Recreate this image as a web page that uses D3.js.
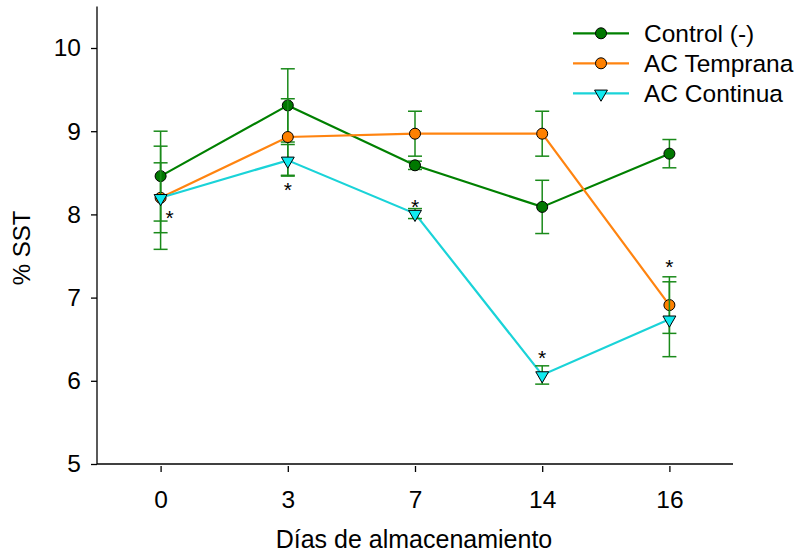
<!DOCTYPE html>
<html>
<head>
<meta charset="utf-8">
<script src="https://cdn.jsdelivr.net/npm/d3@7"></script>
<style>
  html, body { margin: 0; padding: 0; background: #fff; }
  svg text { font-family: "Liberation Sans", Arial, sans-serif; fill: #000; }
</style>
</head>
<body>
<svg id="chart" width="802" height="554"></svg>
<script>
// Storage days (categorical)
const days = ["0", "3", "7", "14", "16"];
const yTicks = [5, 6, 7, 8, 9, 10];

// Series means (% SST)
const controlValues  = [8.46, 9.31, 8.59, 8.09, 8.73];
const tempranaValues = [8.20, 8.93, 8.97, 8.97, 6.91];
const continuaValues = [8.20, 8.65, 8.01, 6.07, 6.74];

// Standard errors
const controlErr  = [0.54, 0.44, 0.05, 0.32, 0.17];
const tempranaErr = [0.42, 0.46, 0.27, 0.27, 0.34];
const continuaErr = [0.62, 0.19, 0.06, 0.11, 0.45];

// Significance marks: day, value level of the mark, side shift
const starDays   = ["0", "3", "7", "14", "16"];
const starLevels = [7.99, 8.33, 8.12, 6.31, 7.40];
const starShift  = [9, 0, 0, 0, 0];

const series = [
  { name: "Control (-)", values: controlValues, err: controlErr,
    line: "#008000", fill: "#007800", shape: "circle" },
  { name: "AC Temprana", values: tempranaValues, err: tempranaErr,
    line: "#ff8410", fill: "#ff8000", shape: "circle" },
  { name: "AC Continua", values: continuaValues, err: continuaErr,
    line: "#1ad3d8", fill: "#10eaf0", shape: "triangle" }
];

const svg = d3.select("#chart");
const plotLeft = 97, plotRight = 733, plotTop = 6.4, plotBottom = 464;

const x = d3.scalePoint().domain(days).range([plotLeft, plotRight]).padding(0.5);
const y = d3.scaleLinear().domain([5, 10.5]).range([plotBottom, plotTop]);

// Axes
const yAxis = d3.axisLeft(y).tickValues(yTicks).tickSize(6).tickPadding(10).tickFormat(d3.format("d"));
const gy = svg.append("g").attr("transform", `translate(${plotLeft},0)`).call(yAxis);
gy.select(".domain").attr("d", `M0,${plotBottom}V${plotTop}`).attr("stroke", "#000").attr("stroke-width", 1.3);
gy.selectAll(".tick line").attr("stroke", "#000").attr("stroke-width", 1.3);
gy.selectAll(".tick text").attr("font-size", 24.5).style("font-family", "Liberation Sans, Arial, sans-serif");

const xAxis = d3.axisBottom(x).tickSize(6).tickPadding(21);
const gx = svg.append("g").attr("transform", `translate(0,${plotBottom})`).call(xAxis);
gx.select(".domain").attr("d", `M${plotLeft},0H${plotRight}`).attr("stroke", "#000").attr("stroke-width", 1.3);
gx.selectAll(".tick line").attr("y1", 2).attr("y2", 8).attr("stroke", "#000").attr("stroke-width", 1.3);
gx.selectAll(".tick text").attr("font-size", 24.5).style("font-family", "Liberation Sans, Arial, sans-serif");

// Axis titles
svg.append("text").attr("x", (plotLeft + plotRight) / 2 - 1).attr("y", 548)
  .attr("text-anchor", "middle").attr("font-size", 25).text("Días de almacenamiento");
svg.append("text").attr("transform", `translate(30,248) rotate(-90)`)
  .attr("text-anchor", "middle").attr("font-size", 24).text("% SST");

const line = d3.line().x((d, i) => x(days[i])).y(d => y(d));
const tri = d3.symbol().type(d3.symbolTriangle).size(72);

function drawMarker(g, s, cx, cy) {
  if (s.shape === "circle") {
    g.append("circle").attr("cx", cx).attr("cy", cy).attr("r", 5.5)
      .attr("fill", s.fill).attr("stroke", "#000").attr("stroke-width", 1);
  } else {
    g.append("path").attr("d", tri)
      .attr("transform", `translate(${cx},${cy + 0.5}) rotate(180)`)
      .attr("fill", s.fill).attr("stroke", "#000").attr("stroke-width", 1);
  }
}

series.forEach(s => {
  const g = svg.append("g");
  g.append("path").datum(s.values).attr("d", line)
    .attr("fill", "none").attr("stroke", s.line).attr("stroke-width", 2.2);
  // error bars
  s.values.forEach((v, i) => {
    const cx = x(days[i]);
    const y0 = y(v - s.err[i]), y1 = y(v + s.err[i]);
    const eb = g.append("g").attr("stroke", "#1a8a1a").attr("stroke-width", 1.5);
    eb.append("line").attr("x1", cx).attr("x2", cx).attr("y1", y0).attr("y2", y1);
    eb.append("line").attr("x1", cx - 7).attr("x2", cx + 7).attr("y1", y0).attr("y2", y0);
    eb.append("line").attr("x1", cx - 7).attr("x2", cx + 7).attr("y1", y1).attr("y2", y1);
  });
  s.values.forEach((v, i) => drawMarker(g, s, x(days[i]), y(v)));
});

// Significance asterisks
starDays.forEach((d, i) => {
  svg.append("text").attr("x", x(d) + starShift[i]).attr("y", y(starLevels[i]) + 10)
    .attr("text-anchor", "middle").attr("font-size", 21).text("*");
});

// Legend
const legend = svg.append("g");
series.forEach((s, i) => {
  const ly = 33.3 + i * 30;
  legend.append("line").attr("x1", 573).attr("x2", 629).attr("y1", ly).attr("y2", ly)
    .attr("stroke", s.line).attr("stroke-width", 2.2);
  drawMarker(legend, s, 601, ly);
  legend.append("text").attr("x", 644).attr("y", ly + 8.5).attr("font-size", 24.5).text(s.name);
});
</script>
</body>
</html>
